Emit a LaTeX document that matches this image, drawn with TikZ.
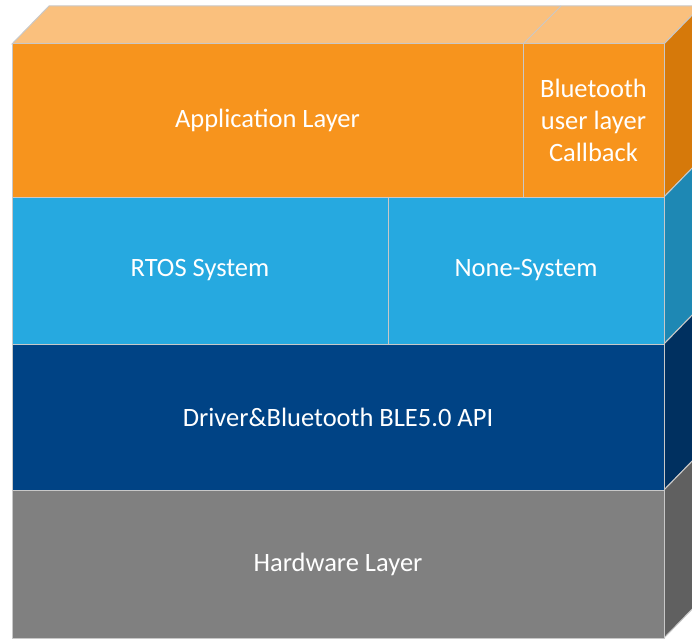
\documentclass[tikz,border=0pt]{standalone}
\usepackage{fontspec}
\setmainfont{Carlito}
\definecolor{orF}{RGB}{247,148,29}
\definecolor{orT}{RGB}{250,192,125}
\definecolor{orS}{RGB}{214,121,10}
\definecolor{lbF}{RGB}{38,169,224}
\definecolor{lbS}{RGB}{30,136,180}
\definecolor{dbF}{RGB}{0,67,133}
\definecolor{dbS}{RGB}{0,48,96}
\definecolor{grF}{RGB}{128,128,128}
\definecolor{grS}{RGB}{96,96,96}
\definecolor{edge}{RGB}{200,200,200}
\begin{document}
\begin{tikzpicture}[x=1pt,y=-1pt,
  face/.style={draw=edge,line width=1pt,text=white,inner sep=0pt,outer sep=0pt,
    font=\fontsize{26.5}{32}\selectfont,align=center},
  side/.style={draw=edge,line width=1pt}]
\useasboundingbox (0,0) rectangle (692,639);
\begin{scope}
\clip (0,0) rectangle (692,639);
% top face
\fill[orT,draw=edge,line width=1pt] (12,44) -- (49,6) -- (701,6) -- (664,44) -- cycle;
\draw[edge,line width=1pt] (523,44) -- (561,6);
% side faces
\fill[orS,side] (664,44) -- (701,6) -- (701,159) -- (664,197) -- cycle;
\fill[lbS,side] (664,197) -- (701,159) -- (701,306) -- (664,344) -- cycle;
\fill[dbS,side] (664,344) -- (701,306) -- (701,452) -- (664,490) -- cycle;
\fill[grS,side] (664,490) -- (701,452) -- (701,600) -- (664,638) -- cycle;
% front faces
\node[face,fill=orF,minimum width=511pt,minimum height=153pt] (app) at (267.5,120.5) {Application Layer};
\node[face,fill=orF,minimum width=141pt,minimum height=153pt] (cb) at (593.5,120.5) {Bluetooth\\user layer\\Callback};
\node[face,fill=lbF,minimum width=376pt,minimum height=147pt] (rtos) at (200,270.5) {RTOS System};
\node[face,fill=lbF,minimum width=276pt,minimum height=147pt] (none) at (526,270.5) {None-System};
\node[face,fill=dbF,minimum width=652pt,minimum height=146pt] (drv) at (338,417) {Driver\&Bluetooth BLE5.0 API};
\node[face,fill=grF,minimum width=652pt,minimum height=148pt] (hw) at (338,564) {Hardware Layer};
\end{scope}
\end{tikzpicture}
\end{document}
